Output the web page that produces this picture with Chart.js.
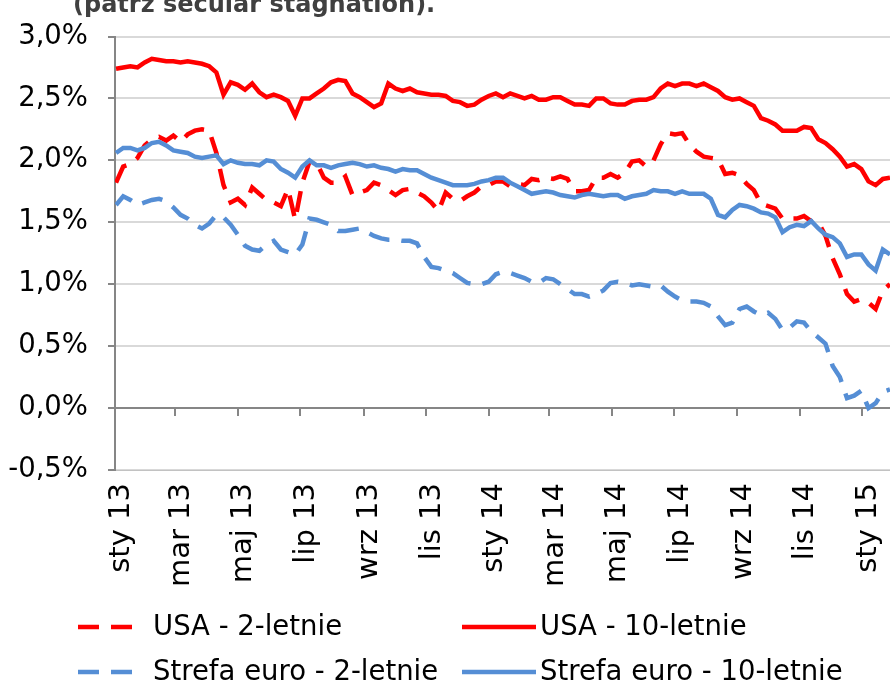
<!DOCTYPE html>
<html>
<head>
<meta charset="utf-8">
<script src="https://cdn.jsdelivr.net/npm/chart.js@4.4.1/dist/chart.umd.min.js"></script>
<style>
  html, body { margin: 0; padding: 0; background: #fff; }
  canvas { display: block; }
</style>
</head>
<body>
<canvas id="chart" width="890" height="686"></canvas>
<script>
// weekly readings, day count from 1 Jan 2013
const firstDay = 1;
const stepDays = 7;
const lastDay = 757;

const usa2 = [
  1.82, 1.95, 1.97, 2.02, 2.12, 2.17, 2.19, 2.16, 2.20, 2.15,
  2.21, 2.24, 2.25, 2.24, 2.06, 1.80, 1.66, 1.69, 1.64, 1.78,
  1.73, 1.68, 1.66, 1.63, 1.77, 1.52, 1.82, 1.99, 1.98, 1.86,
  1.82, 1.82, 1.87, 1.72, 1.74, 1.76, 1.82, 1.80, 1.76, 1.72,
  1.76, 1.77, 1.74, 1.71, 1.66, 1.59, 1.74, 1.69, 1.67, 1.71,
  1.74, 1.79, 1.80, 1.83, 1.83, 1.79, 1.81, 1.80, 1.85, 1.84,
  1.86, 1.85, 1.87, 1.85, 1.75, 1.75, 1.76, 1.86, 1.86, 1.89,
  1.86, 1.90, 1.99, 2.00, 1.95, 2.00, 2.13, 2.22, 2.21, 2.22,
  2.13, 2.07, 2.03, 2.02, 2.01, 1.89, 1.90, 1.88, 1.81, 1.76,
  1.65, 1.63, 1.61, 1.53, 1.53, 1.53, 1.55, 1.51, 1.50, 1.39,
  1.21, 1.08, 0.92, 0.86, 0.88, 0.85, 0.80, 0.95, 1.00
];

const usa10 = [
  2.74, 2.75, 2.76, 2.75, 2.79, 2.82, 2.81, 2.80, 2.80, 2.79,
  2.80, 2.79, 2.78, 2.76, 2.71, 2.53, 2.63, 2.61, 2.57, 2.62,
  2.55, 2.51, 2.53, 2.51, 2.48, 2.36, 2.50, 2.50, 2.54, 2.58,
  2.63, 2.65, 2.64, 2.54, 2.51, 2.47, 2.43, 2.46, 2.62, 2.58,
  2.56, 2.58, 2.55, 2.54, 2.53, 2.53, 2.52, 2.48, 2.47, 2.44,
  2.45, 2.49, 2.52, 2.54, 2.51, 2.54, 2.52, 2.50, 2.52, 2.49,
  2.49, 2.51, 2.51, 2.48, 2.45, 2.45, 2.44, 2.50, 2.50, 2.46,
  2.45, 2.45, 2.48, 2.49, 2.49, 2.51, 2.58, 2.62, 2.60, 2.62,
  2.62, 2.60, 2.62, 2.59, 2.56, 2.51, 2.49, 2.50, 2.47, 2.44,
  2.34, 2.32, 2.29, 2.24, 2.24, 2.24, 2.27, 2.26, 2.17, 2.14,
  2.09, 2.03, 1.95, 1.97, 1.93, 1.83, 1.80, 1.85, 1.86
];

const euro2 = [
  1.64, 1.71, 1.68, 1.64, 1.66, 1.68, 1.69, 1.67, 1.62, 1.56,
  1.53, 1.48, 1.45, 1.49, 1.56, 1.54, 1.48, 1.40, 1.31, 1.28,
  1.27, 1.32, 1.35, 1.28, 1.26, 1.24, 1.32, 1.53, 1.52, 1.50,
  1.48, 1.43, 1.43, 1.44, 1.45, 1.42, 1.39, 1.37, 1.36, 1.36,
  1.35, 1.35, 1.33, 1.22, 1.14, 1.13, 1.11, 1.09, 1.05, 1.01,
  1.00, 1.00, 1.02, 1.08, 1.10, 1.09, 1.07, 1.05, 1.02, 1.01,
  1.05, 1.04, 1.00, 0.96, 0.92, 0.92, 0.90, 0.92, 0.95, 1.01,
  1.02, 1.01, 0.99, 1.00, 0.99, 0.98, 0.99, 0.94, 0.90, 0.87,
  0.86, 0.86, 0.85, 0.82, 0.74, 0.67, 0.69, 0.80, 0.82, 0.78,
  0.75, 0.77, 0.72, 0.63, 0.65, 0.70, 0.69, 0.62, 0.57, 0.52,
  0.34, 0.25, 0.08, 0.10, 0.14, 0.00, 0.04, 0.13, 0.15
];

const euro10 = [
  2.06, 2.10, 2.10, 2.08, 2.10, 2.14, 2.15, 2.12, 2.08, 2.07,
  2.06, 2.03, 2.02, 2.03, 2.04, 1.97, 2.00, 1.98, 1.97, 1.97,
  1.96, 2.00, 1.99, 1.93, 1.90, 1.86, 1.95, 2.00, 1.96, 1.96,
  1.94, 1.96, 1.97, 1.98, 1.97, 1.95, 1.96, 1.94, 1.93, 1.91,
  1.93, 1.92, 1.92, 1.89, 1.86, 1.84, 1.82, 1.80, 1.80, 1.80,
  1.81, 1.83, 1.84, 1.86, 1.86, 1.82, 1.79, 1.76, 1.73, 1.74,
  1.75, 1.74, 1.72, 1.71, 1.70, 1.72, 1.73, 1.72, 1.71, 1.72,
  1.72, 1.69, 1.71, 1.72, 1.73, 1.76, 1.75, 1.75, 1.73, 1.75,
  1.73, 1.73, 1.73, 1.69, 1.56, 1.54, 1.60, 1.64, 1.63, 1.61,
  1.58, 1.57, 1.54, 1.42, 1.46, 1.48, 1.47, 1.51, 1.45, 1.40,
  1.38, 1.33, 1.22, 1.24, 1.24, 1.16, 1.11, 1.28, 1.24
];

// axis ticks: first day of every second month
const tickDays = [0, 59, 120, 181, 243, 304, 365, 424, 485, 546, 608, 669, 730];
const tickLabels = ['sty 13', 'mar 13', 'maj 13', 'lip 13', 'wrz 13', 'lis 13',
  'sty 14', 'mar 14', 'maj 14', 'lip 14', 'wrz 14', 'lis 14', 'sty 15'];

const seriesNames = ['USA - 2-letnie', 'USA - 10-letnie', 'Strefa euro - 2-letnie', 'Strefa euro - 10-letnie'];
const titleText = '(patrz secular stagnation).';

const days = usa10.map((_, i) => firstDay + i * stepDays);
const toPoints = arr => arr.map((v, i) => ({ x: days[i], y: v }));

const FONT = 'DejaVu Sans';
const RED = '#ff0000';
const BLUE = '#558ed5';

Chart.defaults.color = '#000';

// the chart title is cut off by the top edge in the original
const titlePlugin = {
  id: 'cutTitle',
  afterDraw(chart) {
    const ctx = chart.ctx;
    ctx.save();
    ctx.font = 'bold 24px "' + FONT + '"';
    ctx.fillStyle = '#404040';
    ctx.fillText(titleText, 73, 12);
    ctx.restore();
  }
};

// horizontal axis line sits on 0% while its labels stay at the bottom
const zeroAxisPlugin = {
  id: 'zeroAxis',
  beforeDatasetsDraw(chart) {
    const { ctx, chartArea, scales } = chart;
    const y0 = Math.round(scales.y.getPixelForValue(0));
    ctx.save();
    ctx.strokeStyle = '#868686';
    ctx.lineWidth = 2;
    ctx.beginPath();
    ctx.moveTo(chartArea.left, y0);
    ctx.lineTo(chartArea.right, y0);
    tickDays.forEach(d => {
      const x = Math.round(scales.x.getPixelForValue(d));
      ctx.moveTo(x, y0);
      ctx.lineTo(x, y0 + 8);
    });
    ctx.stroke();
    ctx.restore();
  }
};

// two-column legend like the original (slot per dataset index)
const legendSlots = [
  { x: 462, text: 540, y: 672 },
  { x: 78, text: 153, y: 672 },
  { x: 462, text: 540, y: 627 },
  { x: 78, text: 153, y: 627 }
];
const legendPlugin = {
  id: 'gridLegend',
  afterDraw(chart) {
    const ctx = chart.ctx;
    ctx.save();
    ctx.font = '27.5px "' + FONT + '"';
    ctx.textBaseline = 'middle';
    ctx.fillStyle = '#000';
    chart.data.datasets.forEach((ds, i) => {
      const s = legendSlots[i];
      const dashed = ds.borderDash && ds.borderDash.length;
      ctx.strokeStyle = ds.borderColor;
      ctx.lineWidth = ds.borderWidth;
      ctx.setLineDash(dashed ? ds.borderDash : []);
      ctx.beginPath();
      ctx.moveTo(s.x, s.y);
      ctx.lineTo(s.x + (dashed ? 54 : 74), s.y);
      ctx.stroke();
      ctx.fillText(ds.label, s.text, s.y + 1);
    });
    ctx.restore();
  }
};

new Chart(document.getElementById('chart'), {
  type: 'line',
  data: {
    datasets: [
      { label: seriesNames[3], data: toPoints(euro10), borderColor: BLUE, borderWidth: 4.5, pointRadius: 0 },
      { label: seriesNames[2], data: toPoints(euro2), borderColor: BLUE, borderWidth: 4.5, pointRadius: 0, borderDash: [21, 12] },
      { label: seriesNames[1], data: toPoints(usa10), borderColor: RED, borderWidth: 4.5, pointRadius: 0 },
      { label: seriesNames[0], data: toPoints(usa2), borderColor: RED, borderWidth: 4.5, pointRadius: 0, borderDash: [21, 12] }
    ]
  },
  options: {
    responsive: false,
    animation: false,
    devicePixelRatio: 1,
    layout: { padding: { top: 20, right: 0, bottom: 0, left: 0 } },
    plugins: {
      legend: { display: false },
      tooltip: { enabled: false }
    },
    scales: {
      x: {
        type: 'linear',
        min: 0,
        max: lastDay,
        afterBuildTicks: s => { s.ticks = tickDays.map(t => ({ value: t })); },
        afterFit: s => { s.height = 216; s.paddingLeft = 0; s.paddingRight = 0; },
        grid: { lineWidth: 0 },
        ticks: {
          autoSkip: false,
          minRotation: 90,
          maxRotation: 90,
          padding: 5,
          labelOffset: 6,
          font: { family: FONT, size: 29 },
          callback: (value, index) => tickLabels[index]
        }
      },
      y: {
        min: -0.5,
        max: 3.0,
        afterFit: s => { s.width = 115; },
        grid: {
          color: ctx => (ctx.tick && ctx.tick.value === 0 ? '#868686' : '#d9d9d9'),
          lineWidth: 2,
          tickColor: '#868686',
          tickLength: 7
        },
        border: { display: true, color: '#868686', width: 2 },
        ticks: {
          stepSize: 0.5,
          padding: 20,
          font: { family: FONT, size: 27.5 },
          callback: v => v.toFixed(1).replace('.', ',') + '%'
        }
      }
    }
  },
  plugins: [zeroAxisPlugin, titlePlugin, legendPlugin]
});
</script>
</body>
</html>
